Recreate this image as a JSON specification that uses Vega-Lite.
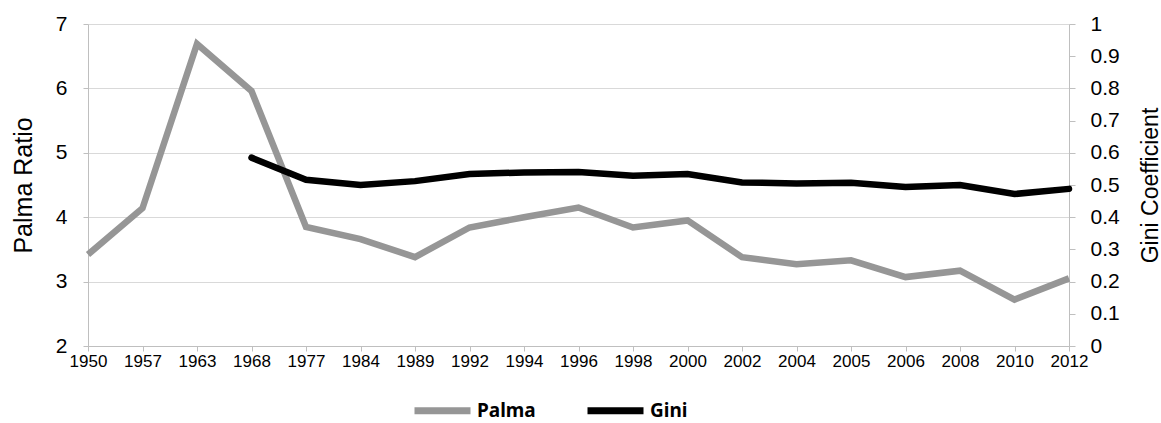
{
  "$schema": "https://vega.github.io/schema/vega-lite/v6.json",
  "autosize": {"type": "none"},
  "padding": {"left": 88, "top": 24, "right": 92, "bottom": 77},
  "width": 981,
  "height": 322,
  "background": "white",
  "config": {
    "view": {"stroke": null},
    "font": "Liberation Sans"
  },
  "data": {
    "values": [
      {"year": "1950", "series": "Palma", "value": 3.42},
      {"year": "1957", "series": "Palma", "value": 4.14},
      {"year": "1963", "series": "Palma", "value": 6.69},
      {"year": "1968", "series": "Palma", "value": 5.96},
      {"year": "1977", "series": "Palma", "value": 3.85},
      {"year": "1984", "series": "Palma", "value": 3.66},
      {"year": "1989", "series": "Palma", "value": 3.38},
      {"year": "1992", "series": "Palma", "value": 3.84},
      {"year": "1994", "series": "Palma", "value": 4.0},
      {"year": "1996", "series": "Palma", "value": 4.15},
      {"year": "1998", "series": "Palma", "value": 3.84},
      {"year": "2000", "series": "Palma", "value": 3.95},
      {"year": "2002", "series": "Palma", "value": 3.38},
      {"year": "2004", "series": "Palma", "value": 3.27},
      {"year": "2005", "series": "Palma", "value": 3.33},
      {"year": "2006", "series": "Palma", "value": 3.07},
      {"year": "2008", "series": "Palma", "value": 3.17},
      {"year": "2010", "series": "Palma", "value": 2.72},
      {"year": "2012", "series": "Palma", "value": 3.05},
      {"year": "1968", "series": "Gini", "value": 0.585},
      {"year": "1977", "series": "Gini", "value": 0.516},
      {"year": "1984", "series": "Gini", "value": 0.500},
      {"year": "1989", "series": "Gini", "value": 0.512},
      {"year": "1992", "series": "Gini", "value": 0.534},
      {"year": "1994", "series": "Gini", "value": 0.539},
      {"year": "1996", "series": "Gini", "value": 0.540},
      {"year": "1998", "series": "Gini", "value": 0.529},
      {"year": "2000", "series": "Gini", "value": 0.534},
      {"year": "2002", "series": "Gini", "value": 0.508},
      {"year": "2004", "series": "Gini", "value": 0.505},
      {"year": "2005", "series": "Gini", "value": 0.507},
      {"year": "2006", "series": "Gini", "value": 0.494},
      {"year": "2008", "series": "Gini", "value": 0.500},
      {"year": "2010", "series": "Gini", "value": 0.472},
      {"year": "2012", "series": "Gini", "value": 0.488}
    ]
  },
  "encoding": {
    "x": {
      "field": "year",
      "type": "ordinal",
      "sort": null,
      "scale": {"type": "point", "padding": 0},
      "axis": {
        "title": null,
        "labelAngle": 0,
        "labelFontSize": 17,
        "labelColor": "#000000",
        "domainColor": "#bfbfbf",
        "tickColor": "#bfbfbf",
        "tickSize": 5,
        "labelPadding": 2,
        "grid": false
      }
    },
    "color": {
      "field": "series",
      "type": "nominal",
      "scale": {"domain": ["Palma", "Gini"], "range": ["#969696", "#000000"]},
      "legend": {
        "title": null,
        "orient": "none",
        "direction": "horizontal",
        "legendX": 323,
        "legendY": 355,
        "padding": 0,
        "symbolType": "stroke",
        "symbolSize": 3136,
        "symbolStrokeWidth": 7,
        "labelFont": "Noto Sans",
        "labelFontWeight": "bold",
        "labelFontSize": 19,
        "labelColor": "#000000",
        "labelOffset": 3,
        "columnPadding": 37
      }
    }
  },
  "layer": [
    {
      "transform": [{"filter": "datum.series === 'Palma'"}],
      "mark": {"type": "line", "strokeWidth": 6.5, "strokeJoin": "miter", "strokeCap": "butt"},
      "encoding": {
        "y": {
          "field": "value",
          "type": "quantitative",
          "scale": {"domain": [2, 7], "nice": false, "zero": false},
          "axis": {
            "title": "Palma Ratio",
            "titleFontSize": 25,
            "titleFontWeight": "normal",
            "titleColor": "#000000",
            "titleAngle": -90,
            "titleBaseline": "middle",
            "titleX": -65,
            "titleY": 161,
            "values": [2, 3, 4, 5, 6, 7],
            "labelFontSize": 21,
            "labelColor": "#000000",
            "labelPadding": 16,
            "tickSize": 5,
            "tickColor": "#bfbfbf",
            "domainColor": "#bfbfbf",
            "grid": true,
            "gridColor": "#d9d9d9"
          }
        }
      }
    },
    {
      "transform": [{"filter": "datum.series === 'Gini'"}],
      "mark": {"type": "line", "strokeWidth": 6.5, "strokeJoin": "miter", "strokeCap": "round"},
      "encoding": {
        "y": {
          "field": "value",
          "type": "quantitative",
          "scale": {"domain": [0, 1], "nice": false},
          "axis": {
            "orient": "right",
            "title": "Gini Coefficient",
            "titleFontSize": 23,
            "titleFontWeight": "normal",
            "titleColor": "#000000",
            "titleAngle": -90,
            "titleBaseline": "middle",
            "titleX": 81,
            "titleY": 161,
            "values": [0, 0.1, 0.2, 0.3, 0.4, 0.5, 0.6, 0.7, 0.8, 0.9, 1],
            "format": "~g",
            "labelFontSize": 21,
            "labelColor": "#000000",
            "labelPadding": 15,
            "tickSize": 6,
            "tickColor": "#bfbfbf",
            "domainColor": "#bfbfbf",
            "grid": false
          }
        }
      }
    }
  ],
  "resolve": {"scale": {"y": "independent"}}
}
